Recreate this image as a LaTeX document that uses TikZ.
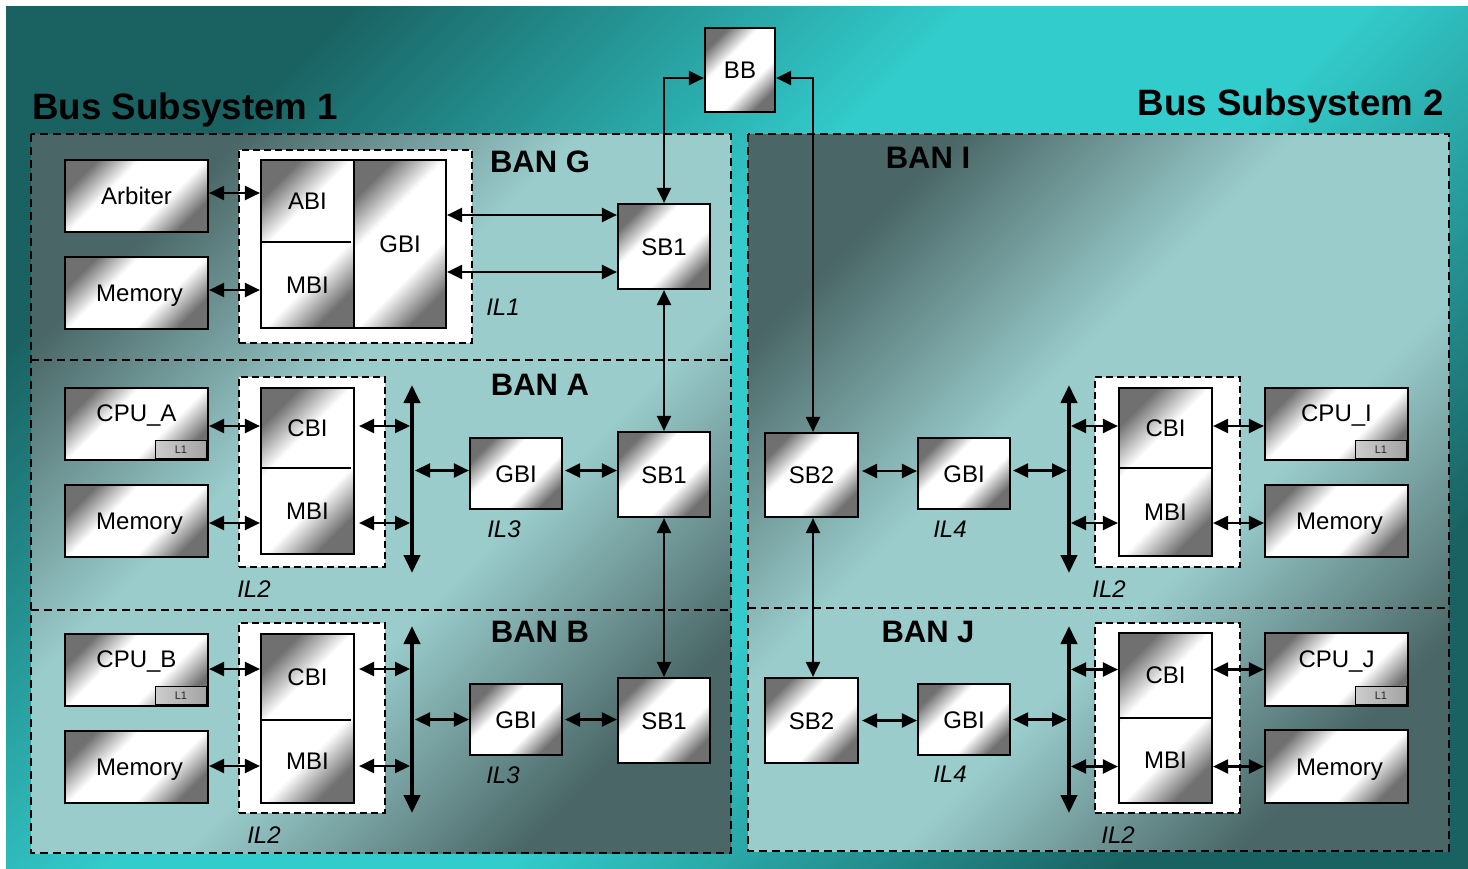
\documentclass[tikz,border=0pt]{standalone}
\usepackage{fontspec}
\setmainfont{Liberation Sans}
\usetikzlibrary{arrows.meta}
\definecolor{bgdark}{RGB}{26,98,98}
\definecolor{bgcyan}{RGB}{51,204,204}
\definecolor{regdark}{RGB}{74,102,102}
\definecolor{reglight}{RGB}{154,204,204}
\definecolor{boxdark}{RGB}{112,112,112}
\pgfdeclarehorizontalshading{bgsh}{100bp}{color(0bp)=(bgdark); color(25bp)=(bgdark); color(44bp)=(bgcyan); color(56bp)=(bgcyan); color(75bp)=(bgdark); color(100bp)=(bgdark)}
\pgfdeclarehorizontalshading{regsh}{100bp}{color(0bp)=(regdark); color(25bp)=(regdark); color(42bp)=(reglight); color(58bp)=(reglight); color(75bp)=(regdark); color(100bp)=(regdark)}
\pgfdeclarehorizontalshading{boxsh}{100bp}{color(0bp)=(boxdark); color(25bp)=(boxdark); color(39bp)=(white); color(61bp)=(white); color(75bp)=(boxdark); color(100bp)=(boxdark)}
\begin{document}
\begin{tikzpicture}[x=1pt,y=-1pt,
  box/.style={draw, line width=2.2pt, shade, shading=boxsh, shading angle=-45, inner sep=0pt,
    font=\fontsize{24}{28}\selectfont, text height=17.2pt, text depth=0pt},
  cpubox/.style={box, text depth=22pt},
  cell/.style={inner sep=0pt, line width=2.2pt, font=\fontsize{24}{28}\selectfont, text height=17.2pt, text depth=0pt},
  colshade/.style={draw, line width=2.2pt, shade, shading=boxsh, shading angle=-45},
  divider/.style={line width=1.5pt},
  l1box/.style={draw, line width=1pt, left color=gray!40, right color=gray!72, inner sep=0pt,
    minimum width=51pt, minimum height=18pt, font=\fontsize{11}{13}\selectfont, text=black!85},
  grp/.style={draw, line width=1.6pt, dash pattern=on 7pt off 4pt, fill=white, inner sep=0pt},
  sz/.style 2 args={minimum width=#1pt, minimum height=#2pt},
  arr/.style={line width=2.2pt, {Triangle[length=15pt,width=14pt]}-{Triangle[length=15pt,width=14pt]}},
  bus/.style={line width=4pt, {Triangle[length=18pt,width=16pt]}-{Triangle[length=18pt,width=16pt]}},
  title/.style={font=\fontsize{36.7}{40}\selectfont\bfseries, inner sep=0pt, anchor=base},
  ban/.style={font=\fontsize{31}{34}\selectfont\bfseries, inner sep=0pt, anchor=base},
  il/.style={font=\fontsize{24}{28}\selectfont\itshape, inner sep=0pt, anchor=base},
  region/.style={draw, line width=1.8pt, dash pattern=on 8pt off 5pt, shade, shading=regsh, shading angle=-45},
  sep/.style={line width=1.8pt, dash pattern=on 8pt off 5pt}
]
\useasboundingbox (0,0) rectangle (1468,868);
\fill[white] (0,0) rectangle (1468,868);
\path[shade, shading=bgsh, shading angle=-45] (6,6) rectangle (1468,868);

% regions
\path[region] (31,134) rectangle (731,853);
\draw[sep] (31,360) -- (731,360);
\draw[sep] (31,610) -- (731,610);
\path[region] (748,134) rectangle (1449,851);
\draw[sep] (748,608) -- (1449,608);

% titles
\node[title, anchor=base west] (t1) at (32,119) {Bus Subsystem 1};
\node[title, anchor=base east] (t2) at (1444,115) {Bus Subsystem 2};
\node[ban] (banG) at (540,172) {BAN G};
\node[ban] (banA) at (540,395) {BAN A};
\node[ban] (banB) at (540,642) {BAN B};
\node[ban] (banI) at (928,168) {BAN I};
\node[ban] (banJ) at (928,642) {BAN J};

% BB
\node[box, sz={70}{84}] (bb) at (740,70) {BB};

% ---------- BAN G ----------
\node[grp, sz={233}{193}] (grpG) at (355.5,246.5) {};
\node[box, sz={143}{72}] (arb) at (136.5,196) {Arbiter};
\node[box, sz={143}{72}] (memG) at (136.5,293) {\hspace{6pt}Memory};
\path[colshade] (261,160) rectangle (354,328);
\node[cell, sz={93}{81}] (abi) at (307.5,200.5) {ABI};
\node[cell, sz={93}{87}] (mbiG) at (307.5,284.5) {MBI};
\draw[divider] (abi.south west) -- ([xshift=-4pt]abi.south east);
\node[box, sz={92}{168}] (gbiG) at (400,244) {GBI};
\node[box, sz={92}{85}] (sb1G) at (664,246.5) {SB1};
\node[il] (il1) at (503,315) {IL1};
\draw[arr] ([yshift=3pt]arb.east) -- ([yshift=3pt]arb.east -| abi.west);
\draw[arr] ([yshift=3pt]memG.east) -- ([yshift=3pt]memG.east -| mbiG.west);
\draw[arr] ([yshift=29pt]gbiG.east) -- ([yshift=29pt]gbiG.east -| sb1G.west);
\draw[arr] ([yshift=-28pt]gbiG.east) -- ([yshift=-28pt]gbiG.east -| sb1G.west);

% ---------- BAN A ----------
\node[grp, sz={146}{190}] (grpA) at (312,472) {};
\node[cpubox, sz={143}{72}] (cpuA) at (136.5,424) {CPU\_A};
\node[l1box, anchor=south east] (l1A) at ([shift={(-2.2pt,2.2pt)}]cpuA.south east) {L1};
\node[box, sz={143}{72}] (memA) at (136.5,521) {\hspace{6pt}Memory};
\path[colshade] (261,388) rectangle (354,554);
\node[cell, sz={93}{79}] (cbiA) at (307.5,427.5) {CBI};
\node[cell, sz={93}{87}] (mbiA) at (307.5,510.5) {MBI};
\draw[divider] (cbiA.south west) -- ([xshift=-4pt]cbiA.south east);
\coordinate (busAt) at (412,385);
\coordinate (busAb) at (412,573);
\draw[bus] (busAt) -- (busAb);
\node[box, sz={92}{71}] (gbiA) at (516,473.5) {GBI};
\node[box, sz={92}{85}] (sb1A) at (664,474.5) {SB1};
\node[il] (il3A) at (504,537) {IL3};
\node[il] (il2A) at (254,597) {IL2};
\draw[arr] ([yshift=-2pt]cpuA.east) -- ([yshift=-2pt]cpuA.east -| cbiA.west);
\draw[arr] ([yshift=-2pt]memA.east) -- ([yshift=-2pt]memA.east -| mbiA.west);
\draw[arr, shorten <=4pt, shorten >=2pt] ([yshift=-2pt]cpuA.east -| cbiA.east) -- ([yshift=-2pt]cpuA.east -| busAt);
\draw[arr, shorten <=4pt, shorten >=2pt] ([yshift=-2pt]memA.east -| mbiA.east) -- ([yshift=-2pt]memA.east -| busAt);
\draw[arr, shorten <=3pt] ([yshift=3pt]gbiA.west -| busAt) -- ([yshift=3pt]gbiA.west);
\draw[arr, shorten <=2pt] ([yshift=3pt]gbiA.east) -- ([yshift=3pt]gbiA.east -| sb1A.west);

% ---------- BAN B ----------
\node[grp, sz={146}{190}] (grpB) at (312,718) {};
\node[cpubox, sz={143}{72}] (cpuB) at (136.5,670) {CPU\_B};
\node[l1box, anchor=south east] (l1B) at ([shift={(-2.2pt,2.2pt)}]cpuB.south east) {L1};
\node[box, sz={143}{72}] (memB) at (136.5,767) {\hspace{6pt}Memory};
\path[colshade] (261,634) rectangle (354,803);
\node[cell, sz={93}{85}] (cbiB) at (307.5,676.5) {CBI};
\node[cell, sz={93}{84}] (mbiB) at (307.5,761) {MBI};
\draw[divider] (cbiB.south west) -- ([xshift=-4pt]cbiB.south east);
\coordinate (busBt) at (412,626);
\coordinate (busBb) at (412,813);
\draw[bus] (busBt) -- (busBb);
\node[box, sz={92}{71}] (gbiB) at (516,719.5) {GBI};
\node[box, sz={92}{85}] (sb1B) at (664,720.5) {SB1};
\node[il] (il3B) at (503,783) {IL3};
\node[il] (il2B) at (264,843) {IL2};
\draw[arr] ([yshift=1pt]cpuB.east) -- ([yshift=1pt]cpuB.east -| cbiB.west);
\draw[arr] ([yshift=1pt]memB.east) -- ([yshift=1pt]memB.east -| mbiB.west);
\draw[arr, shorten <=4pt, shorten >=2pt] ([yshift=1pt]cpuB.east -| cbiB.east) -- ([yshift=1pt]cpuB.east -| busBt);
\draw[arr, shorten <=4pt, shorten >=2pt] ([yshift=1pt]memB.east -| mbiB.east) -- ([yshift=1pt]memB.east -| busBt);
\draw[arr, shorten <=3pt] (gbiB.west -| busBt) -- (gbiB.west);
\draw[arr, shorten <=2pt] (gbiB.east) -- (gbiB.east -| sb1B.west);

% ---------- BAN I ----------
\node[box, sz={93}{84}] (sb2I) at (811.5,475) {SB2};
\node[box, sz={92}{71}] (gbiI) at (964,473.5) {GBI};
\coordinate (busIt) at (1069,385);
\coordinate (busIb) at (1069,573);
\draw[bus] (busIt) -- (busIb);
\node[grp, sz={145}{190}] (grpI) at (1167.5,472) {};
\path[colshade] (1119,388) rectangle (1212,556);
\node[cell, sz={93}{79}] (cbiI) at (1165.5,427.5) {CBI};
\node[cell, sz={93}{89}] (mbiI) at (1165.5,511.5) {MBI};
\draw[divider] (cbiI.south west) -- ([xshift=-2pt]cbiI.south east);
\node[cpubox, sz={143}{72}] (cpuI) at (1336.5,424) {CPU\_I};
\node[l1box, anchor=south east] (l1I) at ([shift={(-2.2pt,2.2pt)}]cpuI.south east) {L1};
\node[box, sz={143}{72}] (memI) at (1336.5,521) {\hspace{6pt}Memory};
\node[il] (il4I) at (950,537) {IL4};
\node[il] (il2I) at (1109,597) {IL2};
\draw[arr, shorten <=3pt] ([yshift=4pt]sb2I.east) -- ([yshift=4pt]sb2I.east -| gbiI.west);
\draw[arr, shorten <=2pt, shorten >=2pt] ([yshift=3pt]gbiI.east) -- ([yshift=3pt]gbiI.east -| busIt);
\draw[arr, shorten <=2pt] ([yshift=-2pt]cpuI.west -| busIt) -- ([yshift=-2pt]cpuI.west -| cbiI.west);
\draw[arr, shorten <=2pt] ([yshift=-2pt]memI.west -| busIt) -- ([yshift=-2pt]memI.west -| mbiI.west);
\draw[arr] ([yshift=-2pt]cpuI.west -| cbiI.east) -- ([yshift=-2pt]cpuI.west);
\draw[arr] ([yshift=-2pt]memI.west -| mbiI.east) -- ([yshift=-2pt]memI.west);

% ---------- BAN J ----------
\node[box, sz={93}{85}] (sb2J) at (811.5,720.5) {SB2};
\node[box, sz={92}{71}] (gbiJ) at (964,719.5) {GBI};
\coordinate (busJt) at (1069,626);
\coordinate (busJb) at (1069,813);
\draw[bus] (busJt) -- (busJb);
\node[grp, sz={145}{190}] (grpJ) at (1167.5,718) {};
\path[colshade] (1119,633) rectangle (1212,803);
\node[cell, sz={93}{84}] (cbiJ) at (1165.5,675) {CBI};
\node[cell, sz={93}{86}] (mbiJ) at (1165.5,760) {MBI};
\draw[divider] (cbiJ.south west) -- ([xshift=-2pt]cbiJ.south east);
\node[cpubox, sz={143}{73}] (cpuJ) at (1336.5,669.5) {CPU\_J};
\node[l1box, anchor=south east] (l1J) at ([shift={(-2.2pt,2.2pt)}]cpuJ.south east) {L1};
\node[box, sz={143}{73}] (memJ) at (1336.5,766.5) {\hspace{6pt}Memory};
\node[il] (il4J) at (950,782) {IL4};
\node[il] (il2J) at (1118,843) {IL2};
\draw[arr, shorten <=3pt] (sb2J.east) -- (sb2J.east -| gbiJ.west);
\draw[arr, shorten <=2pt, shorten >=2pt] (gbiJ.east) -- (gbiJ.east -| busJt);
\draw[arr, shorten <=2pt] (cpuJ.west -| busJt) -- (cpuJ.west -| cbiJ.west);
\draw[arr, shorten <=2pt] (memJ.west -| busJt) -- (memJ.west -| mbiJ.west);
\draw[arr] (cpuJ.west -| cbiJ.east) -- (cpuJ.west);
\draw[arr] (memJ.west -| mbiJ.east) -- (memJ.west);

% ---------- backbone connections ----------
\draw[arr] ([yshift=-8pt]bb.west) -| (sb1G.north);
\draw[arr] ([yshift=-8pt]bb.east) -| ([xshift=1.5pt]sb2I.north);
\draw[arr] (sb1G.south) -- (sb1A.north);
\draw[arr] (sb1A.south) -- (sb1B.north);
\draw[arr] ([xshift=1.5pt]sb2I.south) -- ([xshift=1.5pt]sb2J.north);
\end{tikzpicture}
\end{document}
